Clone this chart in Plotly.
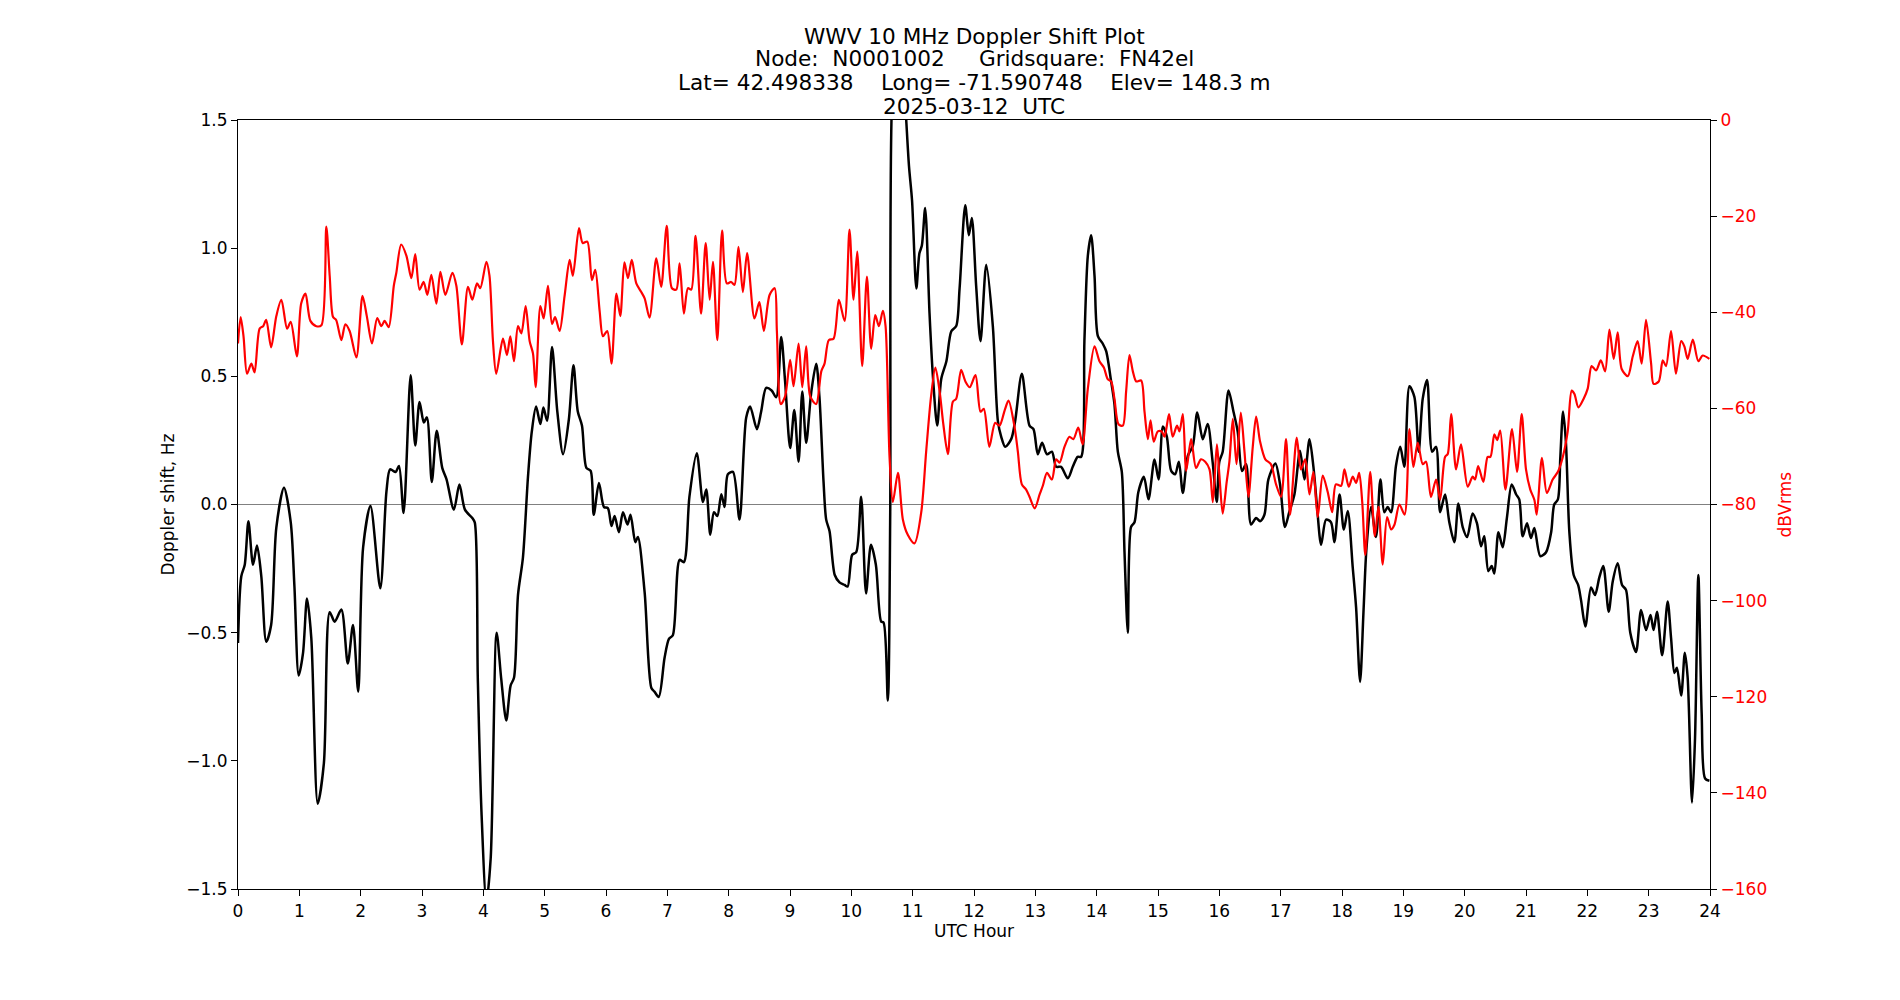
import plotly.graph_objects as go

# ---- Doppler shift (Hz), black, left axis ----
doppler_hours = [
    0.0, 0.054, 0.11, 0.17, 0.245, 0.31, 0.38, 0.46, 0.54, 0.625, 0.75, 0.86, 0.92, 0.99,
    1.06, 1.125, 1.195, 1.30, 1.40, 1.495, 1.576, 1.685, 1.79, 1.875, 1.96, 2.04, 2.16,
    2.32, 2.42, 2.48, 2.57, 2.625, 2.70, 2.815, 2.89, 2.96, 3.03, 3.08, 3.16, 3.24, 3.33,
    3.40, 3.52, 3.61, 3.70, 3.82, 3.86, 3.91, 3.97, 4.05, 4.12, 4.217, 4.29, 4.374, 4.445,
    4.50, 4.565, 4.646, 4.728, 4.79, 4.86, 4.93, 4.98, 5.04, 5.12, 5.206, 5.30, 5.395,
    5.47, 5.54, 5.608, 5.68, 5.75, 5.80, 5.885, 5.967, 6.03, 6.09, 6.14, 6.21, 6.277,
    6.35, 6.40, 6.478, 6.52, 6.63, 6.74, 6.79, 6.86, 6.955, 7.026, 7.09, 7.20, 7.27,
    7.36, 7.48, 7.58, 7.635, 7.70, 7.76, 7.815, 7.88, 7.934, 7.987, 8.07, 8.177, 8.286,
    8.35, 8.46, 8.53, 8.612, 8.70, 8.775, 8.857, 8.92, 9.003, 9.07, 9.14, 9.20, 9.264,
    9.346, 9.427, 9.48, 9.547, 9.59, 9.645, 9.73, 9.807, 9.89, 9.94, 10.014, 10.08,
    10.16, 10.24, 10.32, 10.40, 10.487, 10.525, 10.595, 10.634, 10.66, 10.78, 10.895,
    10.94, 10.99, 11.06, 11.11, 11.15, 11.204, 11.275, 11.33, 11.40, 11.466, 11.55,
    11.63, 11.71, 11.765, 11.857, 11.916, 11.965, 12.035, 12.106, 12.2, 12.307, 12.39,
    12.443, 12.51, 12.606, 12.67, 12.78, 12.905, 12.97, 13.04, 13.11, 13.19, 13.27,
    13.34, 13.42, 13.53, 13.61, 13.69, 13.747, 13.80, 13.856, 13.91, 13.965, 14.02,
    14.10, 14.155, 14.236, 14.29, 14.345, 14.41, 14.454, 14.508, 14.56, 14.617, 14.68,
    14.77, 14.845, 14.943, 15.01, 15.08, 15.144, 15.215, 15.28, 15.34, 15.405, 15.486,
    15.568, 15.64, 15.73, 15.81, 15.89, 15.958, 16.0, 16.055, 16.15, 16.23, 16.30,
    16.37, 16.436, 16.517, 16.6, 16.664, 16.735, 16.80, 16.914, 16.99, 17.07, 17.14,
    17.224, 17.316, 17.387, 17.47, 17.534, 17.59, 17.66, 17.74, 17.82, 17.876, 17.96,
    18.03, 18.094, 18.175, 18.23, 18.295, 18.35, 18.40, 18.474, 18.555, 18.626, 18.69,
    18.745, 18.80, 18.88, 18.95, 19.017, 19.10, 19.18, 19.25, 19.316, 19.387, 19.47,
    19.534, 19.60, 19.68, 19.75, 19.832, 19.897, 19.968, 20.04, 20.13, 20.20, 20.267,
    20.32, 20.386, 20.44, 20.484, 20.55, 20.62, 20.69, 20.767, 20.84, 20.89, 20.946,
    21.017, 21.08, 21.136, 21.234, 21.327, 21.41, 21.46, 21.52, 21.56, 21.604, 21.65,
    21.707, 21.777, 21.85, 21.897, 21.968, 22.06, 22.125, 22.196, 22.26, 22.348, 22.414,
    22.495, 22.566, 22.63, 22.70, 22.794, 22.876, 22.957, 23.03, 23.08, 23.136, 23.22,
    23.31, 23.365, 23.42, 23.46, 23.53, 23.59, 23.636, 23.707, 23.756, 23.81, 23.864,
    23.92, 23.99,
]
doppler_hz = [
    -0.54, -0.28, -0.235, -0.065, -0.235, -0.16, -0.28, -0.535, -0.47, -0.09, 0.065, -0.07, -0.32, -0.667,
    -0.58, -0.367, -0.52, -1.167, -1.01, -0.42, -0.457, -0.41, -0.62, -0.47, -0.73, -0.167, -0.006,
    -0.327, 0.05, 0.137, 0.127, 0.15, -0.033, 0.504, 0.23, 0.40, 0.32, 0.34, 0.088, 0.288, 0.143,
    0.098, -0.02, 0.078, -0.02, -0.053, -0.07, -0.68, -1.2, -1.55, -1.38, -0.5, -0.676, -0.843, -0.706,
    -0.676, -0.353, -0.206, 0.108, 0.284, 0.382, 0.314, 0.378, 0.327, 0.614, 0.363, 0.196, 0.333,
    0.543, 0.363, 0.308, 0.143, 0.131, -0.04, 0.084, -0.01, -0.014, -0.084, -0.045, -0.108, -0.03,
    -0.078, -0.04, -0.147, -0.127, -0.343, -0.716, -0.73, -0.751, -0.598, -0.524, -0.51, -0.216, -0.225,
    0.03, 0.2, 0.01, 0.059, -0.118, -0.03, -0.045, 0.04, -0.01, 0.118, 0.127, -0.059, 0.339,
    0.382, 0.294, 0.363, 0.455, 0.445, 0.418, 0.653, 0.48, 0.22, 0.369, 0.167, 0.441, 0.241,
    0.437, 0.549, 0.42, 0.088, -0.059, -0.104, -0.275, -0.304, -0.314, -0.32, -0.196, -0.186,
    0.03, -0.347, -0.157, -0.235, -0.457, -0.46, -0.765, -0.03, 1.55, 2.0, 1.5,
    1.32, 1.186, 0.843, 0.98, 1.01, 1.157, 0.745, 0.5, 0.308, 0.49, 0.559,
    0.676, 0.696, 0.843, 1.167, 1.05, 1.118, 0.853, 0.637, 0.935, 0.696, 0.324,
    0.265, 0.225, 0.255, 0.324, 0.51, 0.308, 0.294, 0.196, 0.241, 0.196, 0.206,
    0.147, 0.147, 0.102, 0.147, 0.186, 0.186, 0.637, 0.97, 1.05, 0.892, 0.657,
    0.627, 0.598, 0.48, 0.392, 0.206, 0.127, -0.186, -0.5, -0.088, -0.069, 0.049,
    0.108, 0.02, 0.176, 0.098, 0.304, 0.265, 0.131, 0.118, 0.167, 0.045, 0.19,
    0.229, 0.359, 0.255, 0.314, 0.167, 0.01, 0.167, 0.206, 0.445, 0.363, 0.284,
    0.131, 0.157, -0.078, -0.053, -0.065, -0.04, 0.098, 0.16, 0.078, -0.088, -0.03,
    0.039, 0.21, 0.098, 0.255, 0.147, 0.0, -0.157, -0.059, -0.069, -0.147, 0.039,
    -0.098, -0.025, -0.245, -0.402, -0.692, -0.42, -0.167, -0.01, -0.127, 0.098, -0.03,
    -0.01, -0.03, 0.151, 0.225, 0.147, 0.461, 0.42, 0.206, 0.412, 0.486, 0.206,
    0.225, -0.03, 0.039, -0.069, -0.147, 0.004, -0.088, -0.127, -0.035, -0.073, -0.163,
    -0.124, -0.26, -0.24, -0.269, -0.108, -0.167, -0.049, 0.078, 0.039, 0.02, -0.124,
    -0.073, -0.131, -0.092, -0.202, -0.186, -0.108, 0.0, 0.02, 0.186, 0.363, 0.245,
    -0.108, -0.275, -0.314, -0.373, -0.476, -0.324, -0.353, -0.284, -0.24, -0.418, -0.300,
    -0.229, -0.314, -0.333, -0.5, -0.575, -0.412, -0.49, -0.431, -0.49, -0.418, -0.588,
    -0.378, -0.52, -0.657, -0.637, -0.745, -0.578, -0.676, -1.163, -0.912, -0.275, -0.814,
    -1.069, -1.078,
]

# ---- Received power (dBVrms), red, right axis ----
power_hours = [
    0.0, 0.043, 0.09, 0.147, 0.217, 0.27, 0.353, 0.41, 0.46, 0.54, 0.625, 0.707, 0.80, 0.86,
    0.96, 1.03, 1.10, 1.18, 1.277, 1.36, 1.44, 1.495, 1.55, 1.60, 1.685, 1.75, 1.82, 1.93,
    2.03, 2.10, 2.185, 2.27, 2.337, 2.39, 2.457, 2.54, 2.58, 2.66, 2.745, 2.826, 2.89, 2.96,
    3.027, 3.087, 3.152, 3.234, 3.30, 3.38, 3.495, 3.56, 3.65, 3.75, 3.82, 3.897, 3.95, 4.05,
    4.10, 4.157, 4.21, 4.32, 4.385, 4.44, 4.50, 4.565, 4.62, 4.69, 4.755, 4.81, 4.853, 4.93,
    4.983, 5.054, 5.12, 5.17, 5.244, 5.325, 5.407, 5.46, 5.56, 5.62, 5.695, 5.77, 5.825,
    5.896, 5.95, 6.02, 6.09, 6.17, 6.233, 6.30, 6.358, 6.42, 6.494, 6.575, 6.63, 6.71, 6.82,
    6.90, 6.99, 7.075, 7.146, 7.20, 7.27, 7.336, 7.39, 7.46, 7.55, 7.625, 7.69, 7.744, 7.815,
    7.893, 7.97, 8.04, 8.095, 8.16, 8.232, 8.30, 8.42, 8.50, 8.574, 8.667, 8.75, 8.786, 8.85,
    8.92, 9.003, 9.058, 9.14, 9.20, 9.264, 9.33, 9.427, 9.51, 9.563, 9.633, 9.71, 9.797,
    9.89, 9.97, 10.036, 10.096, 10.177, 10.254, 10.324, 10.39, 10.45, 10.514, 10.558,
    10.623, 10.677, 10.76, 10.84, 10.92, 11.03, 11.14, 11.22, 11.30, 11.37, 11.44, 11.50,
    11.574, 11.655, 11.71, 11.79, 11.86, 11.93, 12.024, 12.106, 12.16, 12.25, 12.345,
    12.416, 12.50, 12.563, 12.66, 12.715, 12.78, 12.85, 12.905, 12.99, 13.07, 13.122,
    13.19, 13.27, 13.34, 13.394, 13.475, 13.557, 13.62, 13.70, 13.77, 13.856, 13.965,
    14.046, 14.117, 14.18, 14.236, 14.29, 14.356, 14.426, 14.48, 14.535, 14.59, 14.645,
    14.725, 14.78, 14.835, 14.878, 14.93, 14.997, 15.06, 15.106, 15.18, 15.24, 15.31,
    15.35, 15.405, 15.46, 15.54, 15.62, 15.70, 15.77, 15.84, 15.894, 15.96, 16.0, 16.055,
    16.12, 16.164, 16.22, 16.28, 16.35, 16.41, 16.474, 16.545, 16.6, 16.664, 16.75, 16.84,
    16.925, 17.006, 17.088, 17.153, 17.262, 17.33, 17.40, 17.47, 17.534, 17.604, 17.686,
    17.767, 17.84, 17.90, 17.985, 18.04, 18.11, 18.175, 18.23, 18.28, 18.33, 18.38, 18.46,
    18.535, 18.594, 18.664, 18.735, 18.80, 18.855, 18.936, 19.02, 19.10, 19.164, 19.235,
    19.316, 19.37, 19.45, 19.534, 19.60, 19.68, 19.724, 19.78, 19.86, 19.94, 20.05, 20.13,
    20.17, 20.22, 20.305, 20.375, 20.42, 20.484, 20.53, 20.58, 20.665, 20.772, 20.854,
    20.93, 21.0, 21.07, 21.136, 21.175, 21.26, 21.34, 21.435, 21.52, 21.60, 21.68, 21.745,
    21.79, 21.854, 21.94, 22.006, 22.07, 22.142, 22.22, 22.29, 22.36, 22.43, 22.495, 22.56,
    22.66, 22.74, 22.82, 22.886, 22.957, 23.04, 23.08, 23.164, 23.23, 23.283, 23.365,
    23.445, 23.53, 23.582, 23.636, 23.72, 23.81, 23.88, 23.99,
]
power_dbv = [
    -46.5, -41.0, -45, -52.8, -50.7, -52.5, -43.4, -42.9, -41.6, -47.3, -40.8, -37.4, -43.4, -42,
    -49.2, -38.2, -36.1, -41.8, -42.9, -42.7, -22.2, -32.4, -41.0, -41.6, -45.8, -42.5, -43.9, -49.4,
    -36.6, -40.8, -46.5, -41.2, -42.9, -41.8, -43.1, -34.5, -31.9, -25.9, -28.2, -32.9, -27.9, -35.3,
    -33.7, -36.4, -32.2, -38.2, -31.6, -36.4, -31.8, -34.5, -46.7, -34.7, -37.4, -34, -35, -29.5,
    -32.4, -46, -52.8, -45.5, -48.9, -45, -50.2, -42.9, -44.4, -38.7, -46, -48.6, -55.6, -38.7,
    -41.3, -34.5, -42.4, -41, -43.9, -36.6, -29.1, -32.4, -22.5, -25.6, -25.3, -33.3, -31.2,
    -39.7, -45, -43.9, -50.7, -36.1, -40.8, -29.6, -32.9, -29.1, -34, -35.8, -37.1, -41.1, -28.8,
    -34.7, -22.0, -35, -35.3, -29.8, -40.3, -35, -35.3, -24.1, -40.3, -25.6, -37.4, -29.5, -45.8,
    -23, -34, -33.7, -34.3, -26.4, -35.8, -27.7, -41.3, -37.9, -43.9, -36.4, -35, -43.9, -59.1,
    -57.5, -49.9, -55.4, -46.5, -55.6, -47.1, -57.5, -59.1, -52.3, -50.7, -45.8, -45.5, -37.4,
    -41.8, -22.8, -37.4, -27.4, -51.2, -32.6, -47.6, -40.6, -42.9, -39.7, -42.9,
    -70.1, -79.5, -73.4, -83.1, -86.3, -88.1, -81.6, -69, -57.5, -51.5, -56.5, -63.3,
    -69.5, -58.6, -58, -52, -54.4, -55.6, -53.1, -60.7, -60.1, -68, -63,
    -63.6, -60.4, -58.4, -63.8, -69, -75.8, -76.9, -78.4, -80.8, -77.9, -76.1,
    -73.4, -74.8, -70.6, -71.3, -68, -65.9, -66.4, -64, -67.5, -55.9, -47.1,
    -50.2, -51.5, -53.9, -54.4, -58, -63.3, -63.6, -56.5, -48.9, -52.3, -54.4,
    -54.2, -60.7, -66.4, -62.5, -66.9, -64.8, -64.8, -65.9, -61.2, -65.9, -63.6,
    -64.8, -61.2, -73, -66.4, -72.4, -70.6, -71.1, -72.7, -79.5, -67.5, -73.7, -81.9,
    -75.3, -71.1, -62.2, -71.6, -60.9, -69, -78.4, -68, -61.7, -66.9, -70.6, -71.6,
    -75.8, -78.4, -66.4, -82.1, -66.1, -72.7, -70.6, -77.9, -73.2, -82.6, -74,
    -77.4, -81.6, -75.8, -76.1, -72.7, -76.3, -74.2, -75.5, -73.4, -79.5, -90.5, -73.2,
    -86.6, -80.5, -92.5, -82.6, -85.2, -84.2, -80, -82.1, -64.3, -72.2, -67.1,
    -71.6, -71.1, -78.4, -74.8, -79, -70.1, -69.5, -61.2, -72.7, -67.5, -76.3, -74.2,
    -74.8, -72, -75.3, -70.1, -70.1, -65.4, -66.6, -64.6, -76.9, -64.3, -73.2,
    -61.2, -72.7, -76.9, -79, -82.1, -70.3, -77.6, -74.8, -73.2, -70.1, -64.8, -56.3,
    -57, -59.8, -58, -55.9, -51.2, -52.1, -50, -52.3, -43.6, -49.7, -44.2, -51.8,
    -53.3, -49.2, -46, -50.7, -41.6, -50.7, -54.9, -54.4, -50, -51.2, -43.9,
    -52.8, -46, -47.1, -49.7, -45.7, -50.2, -49, -49.7,
]

x_ticks = list(range(0, 25))
doppler_ticks = [-1.5, -1.0, -0.5, 0.0, 0.5, 1.0, 1.5]
power_ticks = [0, -20, -40, -60, -80, -100, -120, -140, -160]

title_lines = [
    "WWV 10 MHz Doppler Shift Plot",
    "Node:\u00a0\u00a0N0001002\u00a0\u00a0\u00a0\u00a0\u00a0Gridsquare:\u00a0\u00a0FN42el",
    "Lat=\u00a042.498338\u00a0\u00a0\u00a0\u00a0Long=\u00a0-71.590748\u00a0\u00a0\u00a0\u00a0Elev=\u00a0148.3\u00a0m",
    "2025-03-12\u00a0\u00a0UTC",
]

FONT = "DejaVu Sans"
W, H = 1900, 1000
L, R, T, B = 238, 190, 120, 111
plot_h = H - T - B

fig = go.Figure()
fig.add_trace(go.Scatter(
    x=doppler_hours, y=doppler_hz, mode="lines",
    line=dict(color="black", width=2.5, shape="spline", smoothing=0.8),
    yaxis="y", showlegend=False,
))
fig.add_trace(go.Scatter(
    x=power_hours, y=power_dbv, mode="lines",
    line=dict(color="#ff0000", width=2.2, shape="spline", smoothing=0.8),
    yaxis="y2", showlegend=False,
))

def py(ypix):
    return (H - B - ypix) / plot_h

annotations = []
for txt, yp in zip(title_lines, [36, 59, 82.5, 106]):
    annotations.append(dict(
        text=txt, x=0.5, xref="paper", y=py(yp), yref="paper",
        xanchor="center", yanchor="middle", showarrow=False,
        font=dict(family=FONT, size=21.6, color="black"),
    ))
annotations.append(dict(
    text="UTC Hour", x=0.5, xref="paper", y=py(931), yref="paper",
    xanchor="center", yanchor="middle", showarrow=False,
    font=dict(family=FONT, size=17, color="black"),
))
annotations.append(dict(
    text="Doppler shift, Hz", x=(167 - L) / (W - L - R), xref="paper", y=0.5, yref="paper",
    xanchor="center", yanchor="middle", showarrow=False, textangle=-90,
    font=dict(family=FONT, size=17, color="black"),
))
annotations.append(dict(
    text="dBVrms", x=(1784 - L) / (W - L - R), xref="paper", y=0.5, yref="paper",
    xanchor="center", yanchor="middle", showarrow=False, textangle=-90,
    font=dict(family=FONT, size=17, color="#ff0000"),
))

fig.update_layout(
    width=W, height=H,
    margin=dict(l=L, r=R, t=T, b=B, pad=0),
    paper_bgcolor="white", plot_bgcolor="white",
    font=dict(family=FONT, size=17, color="black"),
    annotations=annotations,
    xaxis=dict(
        range=[0, 24], tickvals=x_ticks, ticktext=[str(v) for v in x_ticks],
        showgrid=False, zeroline=False,
        showline=True, linecolor="black", linewidth=1.2, mirror=True,
        ticks="outside", ticklen=6, tickwidth=1.2, tickcolor="black",
        tickfont=dict(family=FONT, size=17, color="black"),
    ),
    yaxis=dict(
        range=[-1.5, 1.5], tickvals=doppler_ticks, tickformat=".1f",
        showgrid=False, zeroline=True, zerolinecolor="#808080", zerolinewidth=1.2,
        showline=True, linecolor="black", linewidth=1.2,
        ticks="outside", ticklen=6, tickwidth=1.2, tickcolor="black",
        tickfont=dict(family=FONT, size=17, color="black"),
    ),
    yaxis2=dict(
        range=[-160, 0], tickvals=power_ticks, overlaying="y", side="right",
        showgrid=False, zeroline=False,
        showline=True, linecolor="black", linewidth=1.2,
        ticks="outside", ticklen=6, tickwidth=1.2, tickcolor="black",
        tickfont=dict(family=FONT, size=17, color="#ff0000"),
    ),
)

fig.write_html("out.html")
